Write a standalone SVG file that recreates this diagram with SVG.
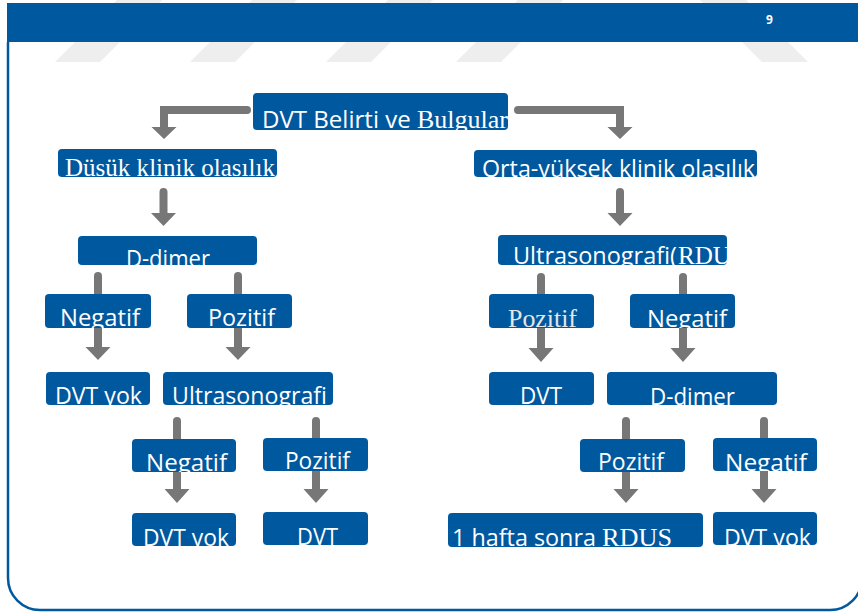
<svg xmlns="http://www.w3.org/2000/svg" width="858" height="612" viewBox="0 0 858 612">
<style>
.box{fill:#00589e}
.s{font-family:"Open Sans","Liberation Sans",sans-serif;fill:#fff;font-size:23px}
.r{font-family:"Liberation Serif","DejaVu Serif",serif;fill:#fff;font-size:26px}
.arr{fill:#777777}
.wm{fill:#eeeeee}
</style>
<rect x="0" y="0" width="858" height="612" fill="#fff"/>
<g id="watermark">
<polygon class="wm" points="55,62 100,62 162,0 117,0"/>
<polygon class="wm" points="190,62 235,62 297,0 252,0"/>
<polygon class="wm" points="326,62 371,62 433,0 388,0"/>
<polygon class="wm" points="456,62 501,62 563,0 518,0"/>
<polygon class="wm" points="762,62 808,62 746,0 700,0"/>
</g>
<path d="M8,42 V578 A32,32 0 0 0 40,610 H830 A32,32 0 0 0 862,578 V42" fill="none" stroke="#00589e" stroke-width="2.5"/>
<rect id="header" x="7" y="3" width="851" height="39" fill="#00589e"/>
<text x="769.5" y="24" text-anchor="middle" font-family="Open Sans, Liberation Sans, sans-serif" font-weight="bold" font-size="12" fill="#fff">9</text>

<g id="n1"><rect class="box" x="253" y="93" width="255" height="37" rx="4"/>
<text y="128"><tspan class="s" x="262" font-size="24" textLength="155" lengthAdjust="spacingAndGlyphs">DVT Belirti ve </tspan><tspan class="r" x="417" textLength="91" lengthAdjust="spacingAndGlyphs">Bulgular</tspan></text></g>
<g id="n2"><rect class="box" x="58" y="149" width="219" height="28" rx="4"/>
<text class="r" x="65" y="176" font-size="21" textLength="210" lengthAdjust="spacingAndGlyphs">Düsük klinik olasılık</text></g>
<g id="n3"><rect class="box" x="474" y="150" width="283" height="27" rx="4"/>
<text class="s" x="482" y="177" textLength="273" lengthAdjust="spacingAndGlyphs">Orta-yüksek klinik olasılık</text></g>
<g id="n4"><rect class="box" x="78" y="236" width="179" height="29" rx="4"/>
<text class="s" x="126" y="267" textLength="84" lengthAdjust="spacingAndGlyphs">D-dimer</text></g>
<g id="n5"><rect class="box" x="45" y="294" width="106" height="34" rx="4"/>
<text class="s" x="60" y="326" textLength="80" lengthAdjust="spacingAndGlyphs">Negatif</text></g>
<g id="n6"><rect class="box" x="187" y="294" width="105" height="34" rx="4"/>
<text class="s" x="208" y="326" textLength="67" lengthAdjust="spacingAndGlyphs">Pozitif</text></g>
<g id="n7"><rect class="box" x="46" y="372" width="104" height="33" rx="4"/>
<text class="s" x="55" y="404" textLength="87" lengthAdjust="spacingAndGlyphs">DVT yok</text></g>
<g id="n8"><rect class="box" x="163" y="372" width="170" height="33" rx="4"/>
<text class="s" x="172" y="404" textLength="155" lengthAdjust="spacingAndGlyphs">Ultrasonografi</text></g>
<g id="n9"><rect class="box" x="132" y="439" width="104" height="33" rx="4"/>
<text class="s" x="146" y="471" textLength="81" lengthAdjust="spacingAndGlyphs">Negatif</text></g>
<g id="n10"><rect class="box" x="263" y="438" width="105" height="33" rx="4"/>
<text class="s" x="285" y="469" textLength="65" lengthAdjust="spacingAndGlyphs">Pozitif</text></g>
<g id="n11"><rect class="box" x="132" y="513" width="104" height="33" rx="4"/>
<text class="s" x="143" y="546" textLength="86" lengthAdjust="spacingAndGlyphs">DVT yok</text></g>
<g id="n12"><rect class="box" x="263" y="512" width="105" height="33" rx="4"/>
<text class="s" x="297" y="545" textLength="41" lengthAdjust="spacingAndGlyphs">DVT</text></g>
<g id="n13"><rect class="box" x="498" y="235" width="229" height="30" rx="4"/>
<text y="264"><tspan class="s" x="513" textLength="164" lengthAdjust="spacingAndGlyphs">Ultrasonografi(</tspan><tspan class="r" x="678" textLength="53" lengthAdjust="spacingAndGlyphs">RDU</tspan></text></g>
<g id="n14"><rect class="box" x="489" y="294" width="105" height="34" rx="4"/>
<text class="r" x="508" y="327" font-size="27" style="fill:#e6e6e6" textLength="69" lengthAdjust="spacingAndGlyphs">Pozitif</text></g>
<g id="n15"><rect class="box" x="630" y="294" width="105" height="34" rx="4"/>
<text class="s" x="647" y="327" textLength="80" lengthAdjust="spacingAndGlyphs">Negatif</text></g>
<g id="n16"><rect class="box" x="489" y="372" width="105" height="33" rx="4"/>
<text class="s" x="520" y="404" textLength="42" lengthAdjust="spacingAndGlyphs">DVT</text></g>
<g id="n17"><rect class="box" x="607" y="372" width="170" height="33" rx="4"/>
<text class="s" x="650" y="405" textLength="85" lengthAdjust="spacingAndGlyphs">D-dimer</text></g>
<g id="n18"><rect class="box" x="580" y="439" width="105" height="33" rx="4"/>
<text class="s" x="598" y="470" textLength="66" lengthAdjust="spacingAndGlyphs">Pozitif</text></g>
<g id="n19"><rect class="box" x="713" y="438" width="104" height="33" rx="4"/>
<text class="s" x="725" y="471" textLength="82" lengthAdjust="spacingAndGlyphs">Negatif</text></g>
<g id="n20"><rect class="box" x="448" y="513" width="255" height="34" rx="4"/>
<text y="546"><tspan class="s" x="452" textLength="150" lengthAdjust="spacingAndGlyphs">1 hafta sonra </tspan><tspan class="r" x="602" font-size="25" textLength="70" lengthAdjust="spacingAndGlyphs">RDUS</tspan></text></g>
<g id="n21"><rect class="box" x="713" y="512" width="104" height="33" rx="4"/>
<text class="s" x="724" y="546" textLength="87" lengthAdjust="spacingAndGlyphs">DVT yok</text></g>

<g id="connectors" class="arr">
<path d="M247,106 H160 V127 H151.5 L164,139 L176.5,127 H168 V114 H247 A4,4 0 0 0 247,106 Z"/>
<path d="M518,106 H624 V127 H632.5 L620,139 L607.5,127 H616 V114 H518 A4,4 0 0 1 518,106 Z"/>
<path d="M159.5,213 V192 A4,4 0 0 1 167.5,192 V213 H176 L163.5,226 L151,213 Z"/>
<path d="M616,213 V192 A4,4 0 0 1 624,192 V213 H632.5 L620,226 L607.5,213 Z"/>
<path d="M94,294 V276 A4,4 0 0 1 102,276 V294 Z"/>
<path d="M234,294 V276 A4,4 0 0 1 242,276 V294 Z"/>
<path d="M94,328 H102 V347 H110.5 L98,360 L85.5,347 H94 Z"/>
<path d="M234,328 H242 V347 H250.5 L238,360 L225.5,347 H234 Z"/>
<path d="M173,439 V421 A4,4 0 0 1 181,421 V439 Z"/>
<path d="M312,438 V421 A4,4 0 0 1 320,421 V438 Z"/>
<path d="M173,472 H181 V489 H189.5 L177,503 L164.5,489 H173 Z"/>
<path d="M312,471 H320 V489 H328.5 L316,503 L303.5,489 H312 Z"/>
<path d="M537,294 V277 A4,4 0 0 1 545,277 V294 Z"/>
<path d="M679,294 V277 A4,4 0 0 1 687,277 V294 Z"/>
<path d="M537,328 H545 V348 H553.5 L541,362 L528.5,348 H537 Z"/>
<path d="M679,328 H687 V348 H695.5 L683,362 L670.5,348 H679 Z"/>
<path d="M622,439 V421 A4,4 0 0 1 630,421 V439 Z"/>
<path d="M760,438 V421 A4,4 0 0 1 768,421 V438 Z"/>
<path d="M622,472 H630 V489 H638.5 L626,503 L613.5,489 H622 Z"/>
<path d="M760,471 H768 V489 H776.5 L764,503 L751.5,489 H760 Z"/>
</g>
</svg>
